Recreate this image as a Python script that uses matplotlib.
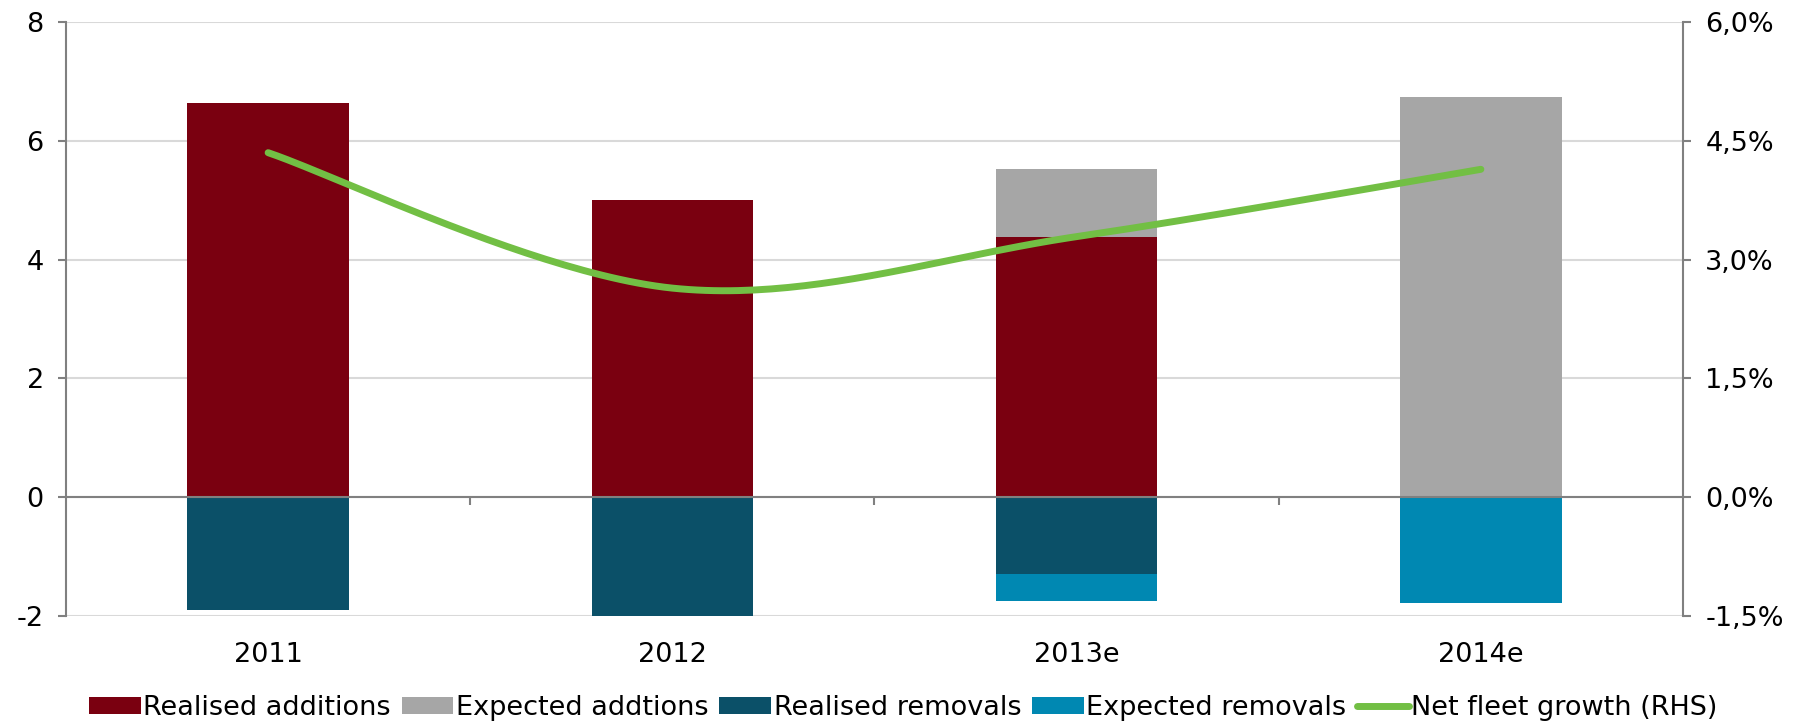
import numpy as np
import matplotlib.pyplot as plt
from matplotlib.ticker import FuncFormatter, FixedLocator

# data
years = ['2011', '2012', '2013e', '2014e']
realised_add = [6.63, 5.01, 4.38, 0.0]
expected_add = [0.0, 0.0, 1.15, 6.73]
realised_rem = [-1.90, -2.02, -1.29, 0.0]
expected_rem = [0.0, 0.0, -0.45, -1.78]
net_growth = [4.35, 2.64, 3.29, 4.14]   # percent, right axis

c_red = '#7A0010'
c_grey = '#A6A6A6'
c_dblue = '#0B5068'
c_lblue = '#0088B2'
c_green = '#72BF44'

plt.rcParams['font.family'] = 'DejaVu Sans'
plt.rcParams['font.size'] = 19.5
plt.rcParams['axes.unicode_minus'] = False

W, H = 1807, 723
fig = plt.figure(figsize=(W / 100, H / 100), dpi=100)
ax = fig.add_axes([66 / W, 1 - 616 / H, (1683 - 66) / W, (616 - 22) / H])

x = np.arange(len(years))
bw = 0.4
ax.bar(x, realised_add, bw, color=c_red, label='Realised additions', zorder=3)
ax.bar(x, expected_add, bw, bottom=realised_add, color=c_grey, label='Expected addtions', zorder=3)
ax.bar(x, realised_rem, bw, color=c_dblue, label='Realised removals', zorder=3)
ax.bar(x, expected_rem, bw, bottom=realised_rem, color=c_lblue, label='Expected removals', zorder=3)

ax.set_xlim(-0.5, len(years) - 0.5)
ax.set_ylim(-2, 8)
ax.set_yticks(np.arange(-2, 9, 2))
ax.grid(axis='y', color='#D9D9D9', linewidth=1.5, zorder=0)
ax.set_axisbelow(True)

for s in ['top', 'right']:
    ax.spines[s].set_visible(False)
ax.spines['left'].set_color('#808080')
ax.spines['left'].set_linewidth(1.5)
ax.spines['bottom'].set_position(('data', 0))
ax.spines['bottom'].set_color('#808080')
ax.spines['bottom'].set_linewidth(1.5)
ax.spines['bottom'].set_zorder(4)

ax.set_xticks(x)
ax.set_xticklabels(years)
ax.xaxis.set_minor_locator(FixedLocator(x[:-1] + 0.5))
ax.tick_params(axis='x', which='major', length=0, pad=104)
ax.tick_params(axis='x', which='minor', length=6, width=1.5, color='#808080', direction='out')
ax.tick_params(axis='y', length=6, width=1.5, color='#808080', pad=10)

# right axis with smoothed line (Excel-like bezier smoothing)
ax2 = ax.twinx()
ax2.set_ylim(-1.5, 6.0)
ax2.set_yticks(np.arange(-1.5, 6.01, 1.5))
ax2.yaxis.set_major_formatter(FuncFormatter(lambda v, p: ('%.1f%%' % v).replace('.', ',')))
for s in ['top', 'left', 'bottom']:
    ax2.spines[s].set_visible(False)
ax2.spines['right'].set_color('#808080')
ax2.spines['right'].set_linewidth(1.5)
ax2.tick_params(axis='y', length=6, width=1.5, color='#808080', pad=10)

px = np.array(x, dtype=float)
py = np.array(net_growth)
xs, ys = [], []
t = np.linspace(0, 1, 50)
n = len(px)
for i in range(n - 1):
    p0 = np.array([px[max(i - 1, 0)], py[max(i - 1, 0)]])
    p1 = np.array([px[i], py[i]])
    p2 = np.array([px[i + 1], py[i + 1]])
    p3 = np.array([px[min(i + 2, n - 1)], py[min(i + 2, n - 1)]])
    c1 = p1 + (p2 - p0) / 6
    c2 = p2 - (p3 - p1) / 6
    b = ((1 - t) ** 3)[:, None] * p1 + (3 * (1 - t) ** 2 * t)[:, None] * c1 \
        + (3 * (1 - t) * t ** 2)[:, None] * c2 + (t ** 3)[:, None] * p2
    xs.extend(b[:, 0])
    ys.extend(b[:, 1])
ax2.plot(xs, ys, color=c_green, linewidth=5, solid_capstyle='round',
         label='Net fleet growth (RHS)', zorder=5)

h1, l1 = ax.get_legend_handles_labels()
h2, l2 = ax2.get_legend_handles_labels()
fig.legend(h1 + h2, l1 + l2, loc='center', bbox_to_anchor=(0.5, 1 - 708 / H),
           ncol=5, frameon=False, handlelength=1.9, handleheight=0.6,
           handletextpad=0.1, columnspacing=0.4, borderaxespad=0)

fig.savefig('out.png', dpi=100)
